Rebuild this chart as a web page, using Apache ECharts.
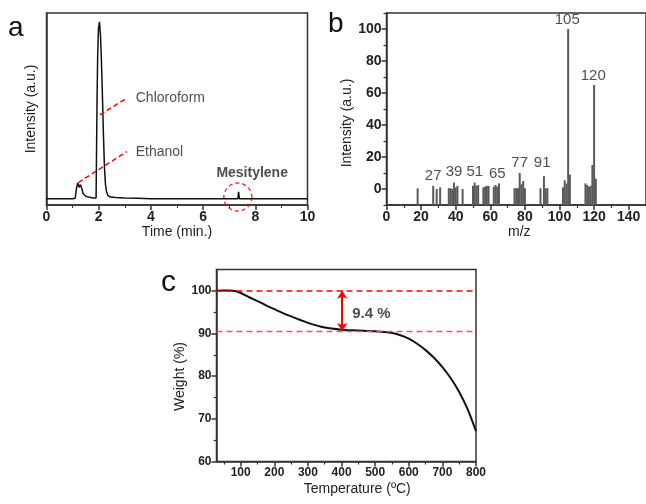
<!DOCTYPE html>
<html><head><meta charset="utf-8">
<script src="https://cdn.jsdelivr.net/npm/echarts@6/dist/echarts.min.js"></script>
<style>html,body{margin:0;padding:0;background:#fff}#c{width:646px;height:504px}</style>
</head><body><div id="c"></div>
<script>
// ---- Panel a: GC chromatogram ----
const timeMin = [0, 0.5, 1.0, 1.1, 1.15, 1.2, 1.25, 1.3, 1.35, 1.4, 1.5, 1.6, 1.7, 1.8, 1.9, 1.93, 1.935, 1.96, 1.99, 2.03, 2.07, 2.1, 2.14, 2.18, 2.22, 2.26, 2.3, 2.35, 2.45, 2.65, 3.0, 3.5, 4.0, 5.0, 5.95, 6.0, 6.05, 7.0, 7.33, 7.36, 7.39, 8.0, 10.0];
const intensityA = [0, 0, 0, 0.3, 6, 9, 6.5, 8, 6, 3, 1.5, 1, 0.7, 0.5, 0.5, 0.5, 54, 80, 96, 100, 92, 80, 60, 37, 18, 8, 4, 2, 1, 0.7, 0.5, 0.3, 0, 0, 0, 0.8, 0, 0, 0, 4, 0, 0, 0];
const timeTicks = [0, 2, 4, 6, 8, 10];
const annotA = [
  {name: 'Chloroform', from: [2.05, 47.5], to: [3.08, 56.9], text: [3.4, 57]},
  {name: 'Ethanol', from: [1.22, 9.2], to: [3.08, 26.7], text: [3.4, 26.6]}
];
const mesityleneMark = [7.33, 1];
const mesityleneText = [7.88, 14.7];

// ---- Panel b: mass spectrum ----
const mzValues = [18, 27, 29, 31, 36, 37, 38, 39, 40, 41, 44, 50, 51, 52, 53, 56, 57, 58, 59, 62, 63, 64, 65, 74, 75, 76, 77, 78, 79, 80, 89, 91, 92, 93, 102, 103, 104, 105, 106, 115, 116, 117, 118, 119, 120, 121];
const mzIntensity = [0.4, 2, 0, 1, 0.5, 0.5, 0, 4, 1, 2, 0, 2, 4, 2, 2.5, 1, 1.5, 2, 2, 1.5, 2.5, 1.5, 3.5, 0.5, 0.5, 0.5, 10, 3, 5, 0.5, 0.5, 8, 0.5, 0.5, 1, 5.5, 3.5, 100, 9, 3.5, 2.5, 1.5, 2, 15, 65, 6.5];
const peakLabelMz = [27, 39, 51, 64, 77, 90, 104.5, 119.5];
const peakLabelText = ['27', '39', '51', '65', '77', '91', '105', '120'];
const peakLabelY = [2.5, 5, 5, 4, 11, 11, 100, 65];
const mzTicks = [0, 20, 40, 60, 80, 100, 120, 140];
const mzMinorTicks = [10, 30, 50, 70, 90, 110, 130, 150];
const intTicksB = [0, 20, 40, 60, 80, 100];
const intMinorTicksB = [-10, 10, 30, 50, 70, 90, 110];

// ---- Panel c: TGA ----
const tempC = [28, 50, 70, 85, 100, 125, 150, 175, 200, 250, 300, 350, 400, 450, 500, 550, 575, 600, 625, 650, 675, 700, 725, 750, 775, 800];
const weightPct = [100, 100.1, 100.1, 99.9, 99.5, 98.5, 97.6, 96.6, 95.7, 94, 92.5, 91.4, 90.9, 90.7, 90.5, 90.1, 89.6, 88.8, 87.6, 86.1, 84.3, 82.1, 79.5, 76.3, 72.3, 67.1];
const tempTicks = [100, 200, 300, 400, 500, 600, 700, 800];
const tempMinorTicks = [50, 150, 250, 350, 450, 550, 650, 750];
const weightTicks = [60, 70, 80, 90, 100];
const weightMinorTicks = [65, 75, 85, 95];
const lossTop = 100, lossBottom = 90.6, lossX = 402;
const lossText = '9.4 %';
const lossTextPos = [430, 94.7];

const FONT = 'Liberation Sans';
const TXT = '#222';
const AX = '#333';

const chart = echarts.init(document.getElementById('c'), null, {renderer: 'canvas'});

const axLine = {show: true, onZero: false, lineStyle: {color: AX, width: 1.5}};
const noLine = {show: false, onZero: false};
const tickLab = (size) => ({show: true, color: TXT, fontFamily: FONT, fontWeight: 'bold', fontSize: size, margin: 5});
const nameStyle = (pad) => ({color: TXT, fontFamily: FONT, fontSize: 14, padding: pad || 0});
const minorAx = (gi, pos, min, max, vals) => ({gridIndex: gi, type: 'value', position: pos, min: min, max: max,
  axisLine: noLine, axisTick: {show: true, length: 3, customValues: vals, lineStyle: {color: AX, width: 1.2}},
  splitLine: {show: false}, axisLabel: {show: false}});

const option = {
  animation: false,
  backgroundColor: '#fff',
  grid: [
    {left: 46.5, top: 13, width: 261, height: 192, show: true, borderColor: AX, borderWidth: 1.5},
    {left: 386.5, top: 13, width: 264, height: 192, show: true, borderColor: AX, borderWidth: 1.5},
    {left: 216.5, top: 269.5, width: 259.5, height: 192, show: true, borderColor: AX, borderWidth: 1.5}
  ],
  xAxis: [
    {gridIndex: 0, type: 'value', position: 'bottom', min: 0, max: 10, interval: 2, axisLine: axLine,
     axisTick: {show: true, length: 5, lineStyle: {color: AX, width: 1.5}},
     minorTick: {show: true, splitNumber: 2, length: 3, lineStyle: {color: AX}},
     splitLine: {show: false}, minorSplitLine: {show: false}, axisLabel: tickLab(14),
     name: 'Time (min.)', nameLocation: 'middle', nameGap: 18, nameTextStyle: nameStyle()},
    {gridIndex: 1, type: 'value', position: 'bottom', min: 0, max: 150, axisLine: axLine,
     axisTick: {show: true, length: 5, customValues: mzTicks, lineStyle: {color: AX, width: 1.5}},
     splitLine: {show: false}, axisLabel: Object.assign(tickLab(14), {customValues: mzTicks}),
     name: 'm/z', nameLocation: 'middle', nameGap: 18, nameTextStyle: nameStyle([0, 0, 0, 6])},
    minorAx(1, 'bottom', 0, 150, mzMinorTicks),
    {gridIndex: 2, type: 'value', position: 'bottom', min: 28, max: 800, axisLine: axLine,
     axisTick: {show: true, length: 5, customValues: tempTicks, lineStyle: {color: AX, width: 1.5}},
     splitLine: {show: false}, axisLabel: Object.assign(tickLab(12), {customValues: tempTicks}),
     name: 'Temperature (\u00BAC)', nameLocation: 'middle', nameGap: 21, nameTextStyle: nameStyle([0, 0, 0, 22])},
    minorAx(2, 'bottom', 28, 800, tempMinorTicks)
  ],
  yAxis: [
    {gridIndex: 0, type: 'value', position: 'left', min: -3.5, max: 105, axisLine: axLine, axisTick: {show: false},
     axisLabel: {show: false}, splitLine: {show: false},
     name: 'Intensity (a.u.)', nameLocation: 'middle', nameGap: 8, nameTextStyle: nameStyle()},
    {gridIndex: 1, type: 'value', position: 'left', min: -10, max: 110, axisLine: axLine,
     axisTick: {show: true, length: 5, customValues: intTicksB, lineStyle: {color: AX, width: 1.5}},
     axisLabel: Object.assign(tickLab(14), {customValues: intTicksB}), splitLine: {show: false},
     name: 'Intensity (a.u.)', nameLocation: 'middle', nameGap: 23, nameTextStyle: nameStyle([0, 28, 0, 0])},
    minorAx(1, 'left', -10, 110, intMinorTicksB),
    {gridIndex: 2, type: 'value', position: 'left', min: 60, max: 105, axisLine: axLine,
     axisTick: {show: true, length: 5, customValues: weightTicks, lineStyle: {color: AX, width: 1.5}},
     axisLabel: Object.assign(tickLab(12), {customValues: weightTicks}), splitLine: {show: false},
     name: 'Weight (%)', nameLocation: 'middle', nameGap: 28, nameTextStyle: nameStyle([0, 22, 0, 0])},
    minorAx(2, 'left', 60, 105, weightMinorTicks)
  ],
  series: [
    // a: chromatogram
    {type: 'line', xAxisIndex: 0, yAxisIndex: 0, showSymbol: false, symbol: 'none',
     data: timeMin.map((t, i) => [t, intensityA[i]]), lineStyle: {color: '#111', width: 1.5},
     markLine: {silent: true, symbol: ['none', 'none'], label: {show: false},
       lineStyle: {color: '#f00', type: [5, 3], width: 1.5},
       data: annotA.map(a => [{coord: a.from}, {coord: a.to}])}},
    {type: 'scatter', xAxisIndex: 0, yAxisIndex: 0, symbolSize: 1, itemStyle: {color: 'transparent'},
     data: annotA.map(a => ({value: a.text, name: a.name})),
     label: {show: true, position: 'right', distance: 0, formatter: p => p.name, color: TXT, fontFamily: FONT, fontSize: 14}},
    {type: 'scatter', xAxisIndex: 0, yAxisIndex: 0, symbolSize: 1, itemStyle: {color: 'transparent'},
     data: [{value: mesityleneText, name: 'Mesitylene'}],
     label: {show: true, position: 'inside', formatter: p => p.name, color: TXT, fontFamily: FONT, fontSize: 14, fontWeight: 'bold'}},
    {type: 'scatter', xAxisIndex: 0, yAxisIndex: 0, symbol: 'circle', symbolSize: 28,
     data: [mesityleneMark],
     itemStyle: {color: 'transparent', borderColor: '#f00', borderWidth: 1.5, borderType: [4, 3]}},
    // b: mass spectrum
    {type: 'custom', xAxisIndex: 1, yAxisIndex: 1,
     data: mzValues.map((m, i) => [m, mzIntensity[i]]),
     renderItem: (params, api) => {
       const base = api.coord([api.value(0), -10]);
       const top = api.coord([api.value(0), api.value(1)]);
       return {type: 'rect', shape: {x: top[0] - 1, y: top[1], width: 2, height: base[1] - top[1]},
               style: {fill: '#5a5a5a'}};
     }},
    {type: 'scatter', xAxisIndex: 1, yAxisIndex: 1, symbolSize: 1, itemStyle: {color: 'transparent'},
     data: peakLabelMz.map((m, i) => ({value: [m, peakLabelY[i]], name: peakLabelText[i]})),
     label: {show: true, position: 'top', distance: 1, formatter: p => p.name, color: TXT, fontFamily: FONT, fontSize: 15}},
    // c: TGA
    {type: 'line', xAxisIndex: 3, yAxisIndex: 3, showSymbol: false, symbol: 'none', smooth: 0.3,
     data: tempC.map((t, i) => [t, weightPct[i]]), lineStyle: {color: '#111', width: 2},
     markLine: {silent: true, symbol: ['none', 'none'], label: {show: false},
       data: [
         {yAxis: lossTop, lineStyle: {color: '#ff0000', type: [6, 4], width: 1.6}},
         {yAxis: lossBottom, lineStyle: {color: '#ff5050', type: [6, 4], width: 1.4}},
         [{coord: [lossX, lossTop], symbol: 'arrow', symbolSize: 8, lineStyle: {color: '#ff0000', type: 'solid', width: 2}},
          {coord: [lossX, lossBottom], symbol: 'arrow', symbolSize: 8}]
       ]}},
    {type: 'scatter', xAxisIndex: 3, yAxisIndex: 3, symbolSize: 1, itemStyle: {color: 'transparent'},
     data: [{value: lossTextPos, name: lossText}],
     label: {show: true, position: 'right', distance: 0, formatter: p => p.name, color: TXT, fontFamily: FONT, fontSize: 15, fontWeight: 'bold'}}
  ],
  graphic: [
    {type: 'text', left: 8, top: 14, style: {text: 'a', fontFamily: FONT, fontSize: 28, fill: '#111'}},
    {type: 'text', left: 328, top: 10, style: {text: 'b', fontFamily: FONT, fontSize: 28, fill: '#111'}},
    {type: 'text', left: 161, top: 268, style: {text: 'c', fontFamily: FONT, fontSize: 30, fill: '#111'}}
  ]
};
chart.setOption(option);
</script>
</body></html>
